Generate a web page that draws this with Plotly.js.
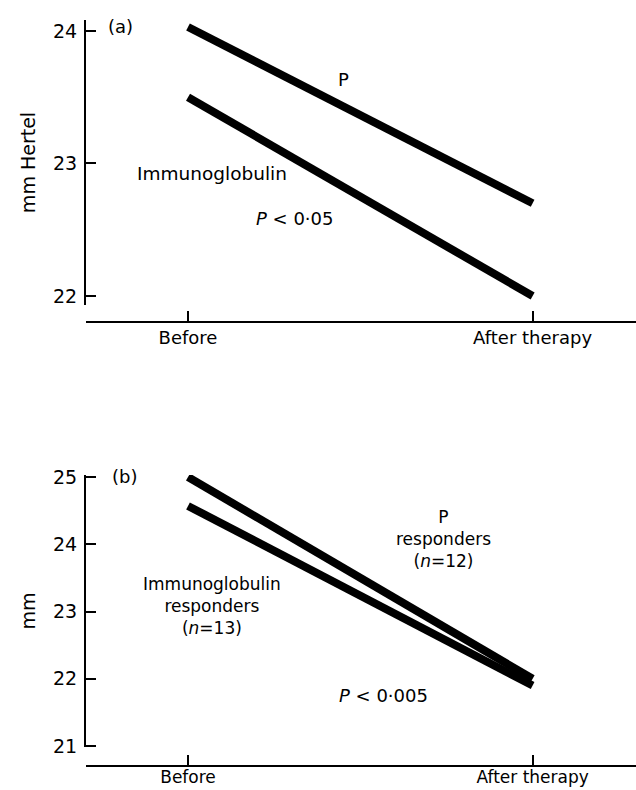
<!DOCTYPE html>
<html>
<head>
<meta charset="utf-8">
<script src="https://cdn.plot.ly/plotly-3.0.1.min.js"></script>
<style>html,body{margin:0;padding:0;background:#fff;}#chart{width:636px;height:790px;}</style>
</head>
<body>
<div id="chart"></div>
<script>
// Data
var timepoints = ["Before", "After therapy"];
var timeIndex = [0, 1];
// Panel (a): mm Hertel
var a_P = [24.03, 22.70];
var a_Ig = [23.50, 22.00];
// Panel (b): responders, mm
var b_P = [25.00, 22.00];
var b_Ig = [24.57, 21.90];
var a_yticks = [22, 23, 24];
var b_yticks = [21, 22, 23, 24, 25];

var FONT = "DejaVu Sans, Arial, sans-serif";
var H = 790;
function py(p){ return 1 - p / H; }

var lineStyle = {color: "#000", width: 8};
var traces = [
  {x: timeIndex, y: a_P, xaxis: "x", yaxis: "y", mode: "lines", line: lineStyle, hoverinfo: "skip"},
  {x: timeIndex, y: a_Ig, xaxis: "x", yaxis: "y", mode: "lines", line: lineStyle, hoverinfo: "skip"},
  {x: timeIndex, y: b_P, xaxis: "x2", yaxis: "y2", mode: "lines", line: lineStyle, hoverinfo: "skip"},
  {x: timeIndex, y: b_Ig, xaxis: "x2", yaxis: "y2", mode: "lines", line: lineStyle, hoverinfo: "skip"}
];

var xRange = [-0.296, 1.30];
function xax(pos, standoff, fsize){
  return {
    domain: [0, 1], range: xRange, anchor: "free", position: pos,
    showline: true, linecolor: "#000", linewidth: 2,
    showgrid: false, zeroline: false,
    tickmode: "array", tickvals: timeIndex, ticktext: timepoints,
    ticks: "inside", ticklen: 10, tickwidth: 2, tickcolor: "#000",
    ticklabelstandoff: standoff,
    tickfont: {family: FONT, size: fsize, color: "#000"}
  };
}
function yax(dom, rng, tv, title, anchor){
  return {
    domain: dom, range: rng, anchor: anchor,
    showline: true, linecolor: "#000", linewidth: 2,
    showgrid: false, zeroline: false,
    tickmode: "array", tickvals: tv,
    ticks: "inside", ticklen: 10, tickwidth: 2, tickcolor: "#000",
    ticklabelstandoff: 3,
    tickfont: {family: FONT, size: 19, color: "#000"},
    title: {text: title, font: {family: FONT, size: 19, color: "#000"}, standoff: 12}
  };
}

var layout = {
  width: 636, height: 790,
  margin: {l: 86, r: 0, t: 0, b: 0},
  paper_bgcolor: "#fff", plot_bgcolor: "#fff",
  showlegend: false,
  xaxis: xax(py(322), -1, 18),
  yaxis: yax([py(305), py(20)], [21.932, 24.083], a_yticks, "mm Hertel", "x"),
  xaxis2: xax(py(766), -4, 17),
  yaxis2: yax([py(747), py(475)], [20.985, 25.03], b_yticks, "mm", "x2"),
  annotations: [
    {text: "(a)", x: 106, y: py(27), xref: "paper", yref: "paper", showarrow: false, xanchor: "left", yanchor: "middle", font: {family: FONT, size: 18, color: "#000"}},
    {text: "P", x: 343, y: py(80), xref: "paper", yref: "paper", showarrow: false, xanchor: "center", yanchor: "middle", font: {family: FONT, size: 18, color: "#000"}},
    {text: "Immunoglobulin", x: 212, y: py(173), xref: "paper", yref: "paper", showarrow: false, xanchor: "center", yanchor: "middle", font: {family: FONT, size: 18.5, color: "#000"}},
    {text: "<i>P</i> &lt; 0·05", x: 294, y: py(218), xref: "paper", yref: "paper", showarrow: false, xanchor: "center", yanchor: "middle", font: {family: FONT, size: 18, color: "#000"}},
    {text: "(b)", x: 110, y: py(476), xref: "paper", yref: "paper", showarrow: false, xanchor: "left", yanchor: "middle", font: {family: FONT, size: 18, color: "#000"}},
    {text: "Immunoglobulin<br>responders<br>(<i>n</i>=13)", x: 212, y: py(606), xref: "paper", yref: "paper", showarrow: false, xanchor: "center", yanchor: "middle", font: {family: FONT, size: 17, color: "#000"}},
    {text: "P<br>responders<br>(<i>n</i>=12)", x: 443, y: py(539), xref: "paper", yref: "paper", showarrow: false, xanchor: "center", yanchor: "middle", font: {family: FONT, size: 17, color: "#000"}},
    {text: "<i>P</i> &lt; 0·005", x: 383, y: py(695), xref: "paper", yref: "paper", showarrow: false, xanchor: "center", yanchor: "middle", font: {family: FONT, size: 18, color: "#000"}}
  ]
};
// convert pixel x of annotations to paper fraction (plot area starts at margin.l)
layout.annotations.forEach(function(a){ a.x = (a.x - 86) / (636 - 86); });

Plotly.newPlot("chart", traces, layout, {staticPlot: true, displayModeBar: false});
</script>
</body>
</html>
